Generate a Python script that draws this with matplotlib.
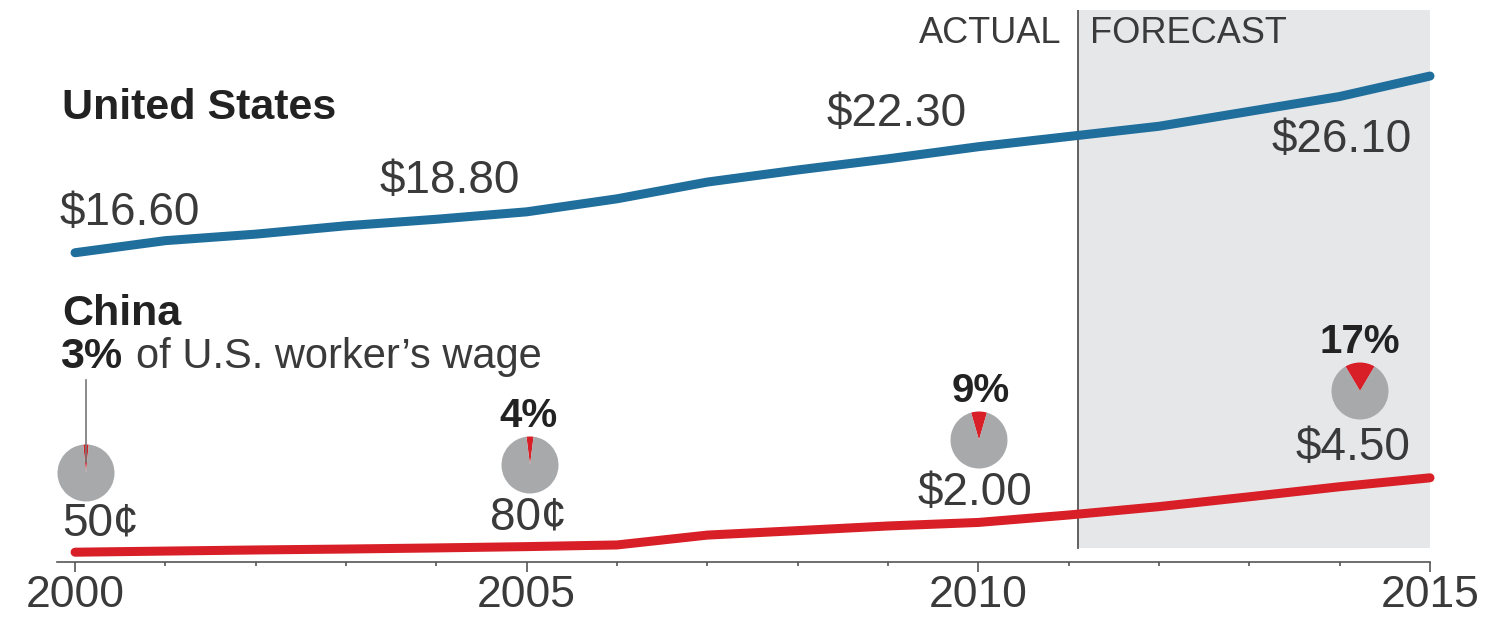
import matplotlib
matplotlib.use("Agg")
import matplotlib.pyplot as plt

plt.rcParams['font.family'] = ['Liberation Sans', 'DejaVu Sans']

years = list(range(2000, 2016))
us_wage = [16.6, 17.25, 17.6, 18.05, 18.4, 18.8, 19.5, 20.4, 21.05, 21.65,
           22.3, 22.85, 23.4, 24.2, 25.0, 26.1]
china_wage = [0.5, 0.56, 0.62, 0.67, 0.73, 0.8, 0.89, 1.42, 1.66, 1.91,
              2.1, 2.5, 2.95, 3.48, 4.02, 4.5]
forecast_start = 2011.1

us_labels = ['$16.60', '$18.80', '$22.30', '$26.10']
china_labels = ['50¢', '80¢', '$2.00', '$4.50']
share_pct = [3, 4, 9, 17]
share_labels = ['3%', '4%', '9%', '17%']
tick_years = [2000, 2005, 2010, 2015]

W, H = 1486, 620
BLUE = '#1f6e9c'
RED = '#d81f27'
PIE_GRAY = '#a7a9ab'
SHADE = '#e6e7e9'
TXT = '#3a3a3a'


def fx(px):
    return px / W


def fy(py):
    return 1 - py / H


fig = plt.figure(figsize=(W / 100, H / 100), dpi=100)
ax = fig.add_axes([fx(57), fy(561.5), (1430 - 57) / W, (561.5 - 10) / H])
ax.set_xlim(1999.8, 2015)
ax.set_ylim(0, (561.5 - 10) / 18.6)

# forecast band
ax.axvspan(forecast_start, 2015, ymin=(561.5 - 548) / 551.5, ymax=1,
           color=SHADE, lw=0, zorder=0)
ax.axvline(forecast_start, ymin=(561.5 - 548) / 551.5, ymax=1,
           color='#555555', lw=1.3, zorder=1)

ax.plot(years, us_wage, color=BLUE, lw=6.5, solid_capstyle='round',
        solid_joinstyle='round', clip_on=False, zorder=3)
ax.plot(years, china_wage, color=RED, lw=6.5, solid_capstyle='round',
        solid_joinstyle='round', clip_on=False, zorder=3)

for s in ['top', 'right', 'left']:
    ax.spines[s].set_visible(False)
ax.spines['bottom'].set_color('#555555')
ax.spines['bottom'].set_linewidth(1.2)
ax.set_yticks([])
ax.set_xticks(tick_years)
ax.set_xticks(years, minor=True)
ax.set_xticklabels([str(y) for y in tick_years])
ax.tick_params(axis='x', which='major', length=7, width=1.2, color='#555555',
               labelsize=32, labelcolor=TXT, pad=3)
ax.tick_params(axis='x', which='minor', length=3, width=1.2, color='#555555')

# series titles
fig.text(fx(62), fy(119), 'United States', fontsize=31, fontweight='bold',
         color='#222222', va='baseline')
fig.text(fx(62), fy(325), 'China', fontsize=31, fontweight='bold',
         color='#222222', va='baseline')
fig.text(fx(60), fy(368), share_labels[0], fontsize=31, fontweight='bold',
         color='#222222', va='baseline')
fig.text(fx(136), fy(368), 'of U.S. worker\u2019s wage', fontsize=30,
         color=TXT, va='baseline')

fig.text(fx(1061), fy(43), 'ACTUAL', fontsize=26, color=TXT, ha='right', va='baseline')
fig.text(fx(1090), fy(43), 'FORECAST', fontsize=26, color=TXT, ha='left', va='baseline')

# US value labels
us_pos = [(60, 225, 'left'), (380, 193, 'left'), (827, 126, 'left'), (1412, 152, 'right')]
for lab, (px, py, ha) in zip(us_labels, us_pos):
    fig.text(fx(px), fy(py), lab, fontsize=33, color=TXT, ha=ha, va='baseline')

# China value labels
cn_pos = [(62, 535, 'left'), (528, 530, 'center'), (975, 505, 'center'), (1353, 460, 'center')]
for lab, (px, py, ha) in zip(china_labels, cn_pos):
    fig.text(fx(px), fy(py), lab, fontsize=33, color=TXT, ha=ha, va='baseline')

# share pies
pie_pos = [(86, 473), (530, 465), (979, 440), (1360, 391)]
r = 28.5
for pct, (cx, cy) in zip(share_pct, pie_pos):
    pax = fig.add_axes([fx(cx - r), fy(cy + r), 2 * r / W, 2 * r / H])
    pax.pie([pct, 100 - pct], colors=[RED, PIE_GRAY],
            startangle=90 - pct * 3.6 / 2, counterclock=True,
            wedgeprops=dict(linewidth=0))
    pax.set_xlim(-1, 1)
    pax.set_ylim(-1, 1)
    pax.axis('off')

pct_pos = [(528, 427), (981, 402), (1360, 353)]
for lab, (px, py) in zip(share_labels[1:], pct_pos):
    fig.text(fx(px), fy(py), lab, fontsize=29, fontweight='bold',
             color='#222222', ha='center', va='baseline')

# leader from "3%" to first pie
fig.add_artist(plt.Line2D([fx(86), fx(86)], [fy(380), fy(462)],
                          color='#777777', lw=1.2, zorder=5))

fig.savefig('out.png', dpi=100)
